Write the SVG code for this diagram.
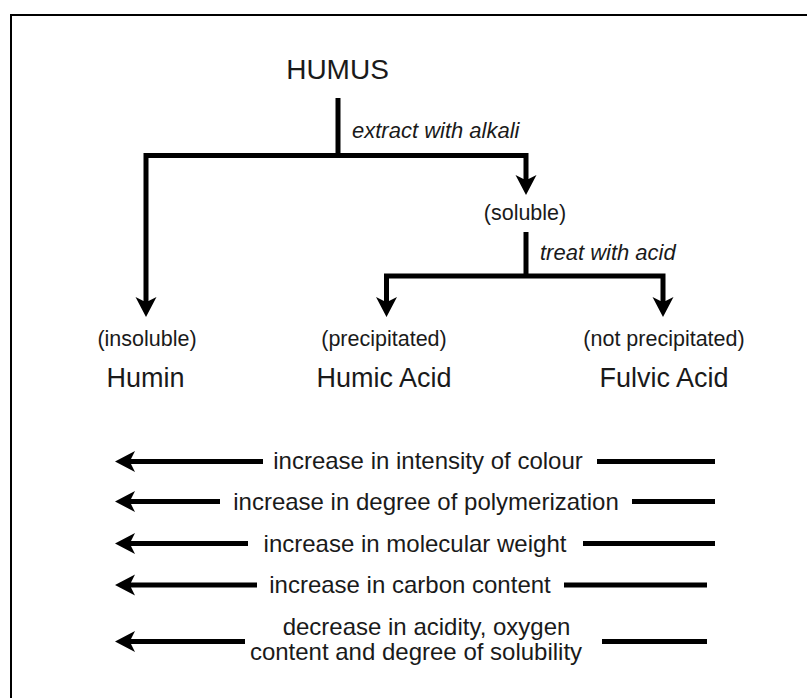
<svg xmlns="http://www.w3.org/2000/svg" width="807" height="698" viewBox="0 0 807 698">
<style>
text { font-family: "Liberation Sans", Arial, sans-serif; fill: #1a1a1a; }
.title { font-size: 28px; text-anchor: middle; }
.name { font-size: 27px; text-anchor: middle; }
.sub { font-size: 21.5px; text-anchor: middle; }
.op { font-size: 22px; font-style: italic; }
.trend { font-size: 24px; text-anchor: middle; }
.ln { fill: none; stroke: #000; stroke-width: 5; stroke-linejoin: miter; stroke-linecap: butt; }
.arr { marker-end: url(#head); }
</style>
<defs>
<marker id="head" markerUnits="userSpaceOnUse" viewBox="0 -11 22 22" markerWidth="22" markerHeight="22" refX="4" refY="0" orient="auto">
<path d="M20,0 L0,-10.5 L4,-2.5 L4,2.5 L0,10.5 Z" fill="#000"/>
</marker>
</defs>
<rect x="11" y="15" width="800" height="700" fill="#fff" stroke="#000" stroke-width="2"/>
<g id="connectors">
<path class="ln" d="M338,98 V155.5"/>
<path class="ln arr" d="M338,155.5 H146 V301"/>
<path class="ln arr" d="M338,155.5 H526 V179"/>
<path class="ln" d="M526,232 V276"/>
<path class="ln arr" d="M526,276 H386.5 V301"/>
<path class="ln arr" d="M526,276 H663 V301"/>
</g>
<g id="humus"><text class="title" x="337.5" y="79">HUMUS</text></g>
<g id="op-alkali"><text class="op" x="352" y="138">extract with alkali</text></g>
<g id="soluble"><text class="sub" x="525" y="220">(soluble)</text></g>
<g id="op-acid"><text class="op" x="540" y="260">treat with acid</text></g>
<g id="humin"><text class="sub" x="147" y="346">(insoluble)</text><text class="name" x="145.5" y="387">Humin</text></g>
<g id="humic-acid"><text class="sub" x="384" y="346">(precipitated)</text><text class="name" x="384" y="387">Humic Acid</text></g>
<g id="fulvic-acid"><text class="sub" x="664" y="346">(not precipitated)</text><text class="name" x="664" y="387">Fulvic Acid</text></g>
<g id="trends">
<path class="ln arr" d="M263,461.5 H131"/>
<path class="ln" d="M597,461.5 H715"/>
<text class="trend" x="428" y="469">increase in intensity of colour</text>
<path class="ln arr" d="M220,501.5 H131"/>
<path class="ln" d="M632,501.5 H715"/>
<text class="trend" x="426" y="510">increase in degree of polymerization</text>
<path class="ln arr" d="M248,543.5 H131"/>
<path class="ln" d="M583,543.5 H715"/>
<text class="trend" x="415" y="551.5">increase in molecular weight</text>
<path class="ln arr" d="M257,585 H131"/>
<path class="ln" d="M564,585 H707"/>
<text class="trend" x="410" y="593">increase in carbon content</text>
<path class="ln arr" d="M245,641.5 H131"/>
<path class="ln" d="M602,641.5 H707"/>
<text class="trend" x="426.5" y="635">decrease in acidity, oxygen</text>
<text class="trend" x="416" y="660">content and degree of solubility</text>
</g>
</svg>
